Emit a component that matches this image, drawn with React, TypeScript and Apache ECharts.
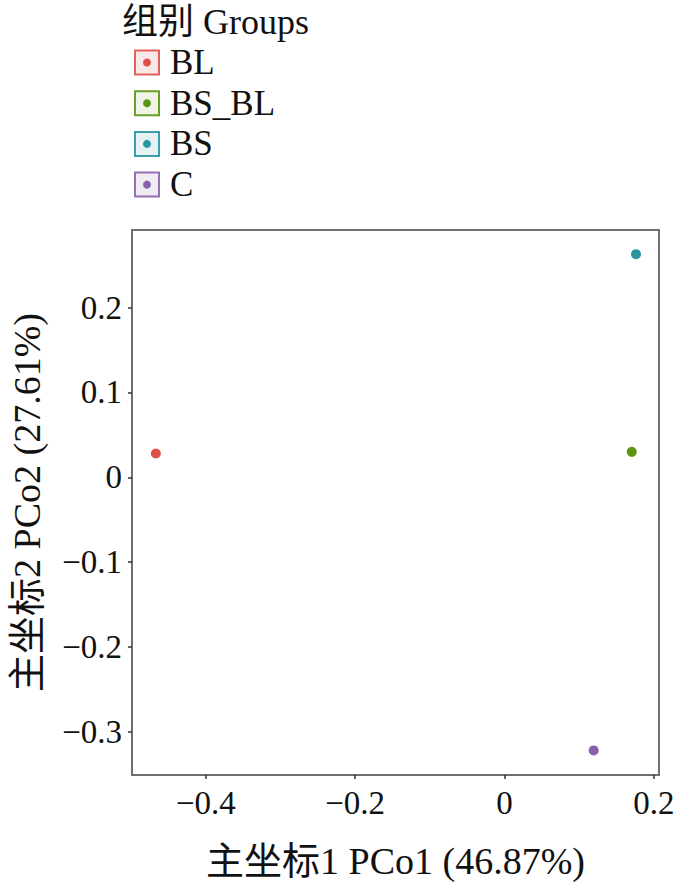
import React, { useEffect, useRef } from "react";
import * as echarts from "echarts";

const groups = ["BL", "BS_BL", "BS", "C"];
const colors = ["#e0504a", "#5a9612", "#2796a0", "#8862a8"];
const keyFills = ["#f7e6e5", "#eef2e3", "#e3f0f1", "#efeaf3"];
const pco1 = [-0.467, 0.1705, 0.1762, 0.1195];
const pco2 = [0.028, 0.03, 0.263, -0.322];
const xTicks = [-0.4, -0.2, 0, 0.2];
const yTicks = [-0.3, -0.2, -0.1, 0, 0.1, 0.2];
const xName = "主坐标1 PCo1 (46.87%)";
const yName = "主坐标2 PCo2 (27.61%)";
const legendTitle = "组别 Groups";

const FONT = "'Liberation Serif', 'Noto Sans CJK SC', serif";

const fmt = (v: number) => (v === 0 ? "0" : String(v).replace("-", "\u2212"));

export default function App() {
  const ref = useRef<HTMLDivElement>(null);
  useEffect(() => {
    if (!ref.current) return;
    const chart = echarts.init(ref.current, undefined, { renderer: "svg" });
    const graphic: any[] = [
      {
        type: "text",
        x: 122,
        y: 22,
        style: {
          text: legendTitle,
          fontFamily: FONT,
          fontSize: 36,
          fill: "#111",
          verticalAlign: "middle",
        },
      },
    ];
    groups.forEach((g, i) => {
      const cy = 62.5 + i * 40.7;
      graphic.push({
        type: "rect",
        shape: { x: 135, y: cy - 12, width: 24, height: 24 },
        style: { fill: keyFills[i], stroke: colors[i], lineWidth: 2, opacity: 0.9 },
      });
      graphic.push({
        type: "circle",
        shape: { cx: 147, cy, r: 4 },
        style: { fill: colors[i] },
      });
      graphic.push({
        type: "text",
        x: 170,
        y: cy,
        style: {
          text: g,
          fontFamily: FONT,
          fontSize: 35,
          fill: "#111",
          verticalAlign: "middle",
        },
      });
    });

    const axisCommon = {
      axisLine: { show: true, onZero: false, lineStyle: { color: "#6e6e73", width: 2 } },
      axisTick: { show: true, length: 4, lineStyle: { color: "#333", width: 1.5 } },
      splitLine: { show: false },
      nameLocation: "middle" as const,
      nameTextStyle: { fontFamily: FONT, fontSize: 38, color: "#111" },
    };

    chart.setOption({
      animation: false,
      backgroundColor: "#fff",
      grid: {
        left: 132,
        top: 230,
        right: 41,
        bottom: 119,
        show: true,
        borderColor: "#6e6e73",
        borderWidth: 2,
      },
      xAxis: {
        type: "value",
        min: -0.499,
        max: 0.207,
        name: xName,
        nameGap: 67,
        ...axisCommon,
        axisTick: { ...axisCommon.axisTick, customValues: xTicks },
        axisLabel: {
          customValues: xTicks,
          formatter: fmt,
          fontFamily: FONT,
          fontSize: 33,
          color: "#111",
          margin: 11,
        },
      },
      yAxis: {
        type: "value",
        min: -0.351,
        max: 0.2915,
        name: yName,
        nameGap: 86,
        ...axisCommon,
        axisTick: { ...axisCommon.axisTick, customValues: yTicks },
        axisLabel: {
          customValues: yTicks,
          formatter: fmt,
          fontFamily: FONT,
          fontSize: 33,
          color: "#111",
          margin: 10,
        },
      },
      graphic,
      series: groups.map((g, i) => ({
        type: "scatter",
        name: g,
        symbol: "circle",
        symbolSize: 10,
        itemStyle: { color: colors[i], opacity: 1 },
        data: [[pco1[i], pco2[i]]],
      })),
    });
    return () => chart.dispose();
  }, []);
  return (
    <div
      ref={ref}
      style={{ position: "absolute", left: 0, top: 0, width: 700, height: 894 }}
    />
  );
}
